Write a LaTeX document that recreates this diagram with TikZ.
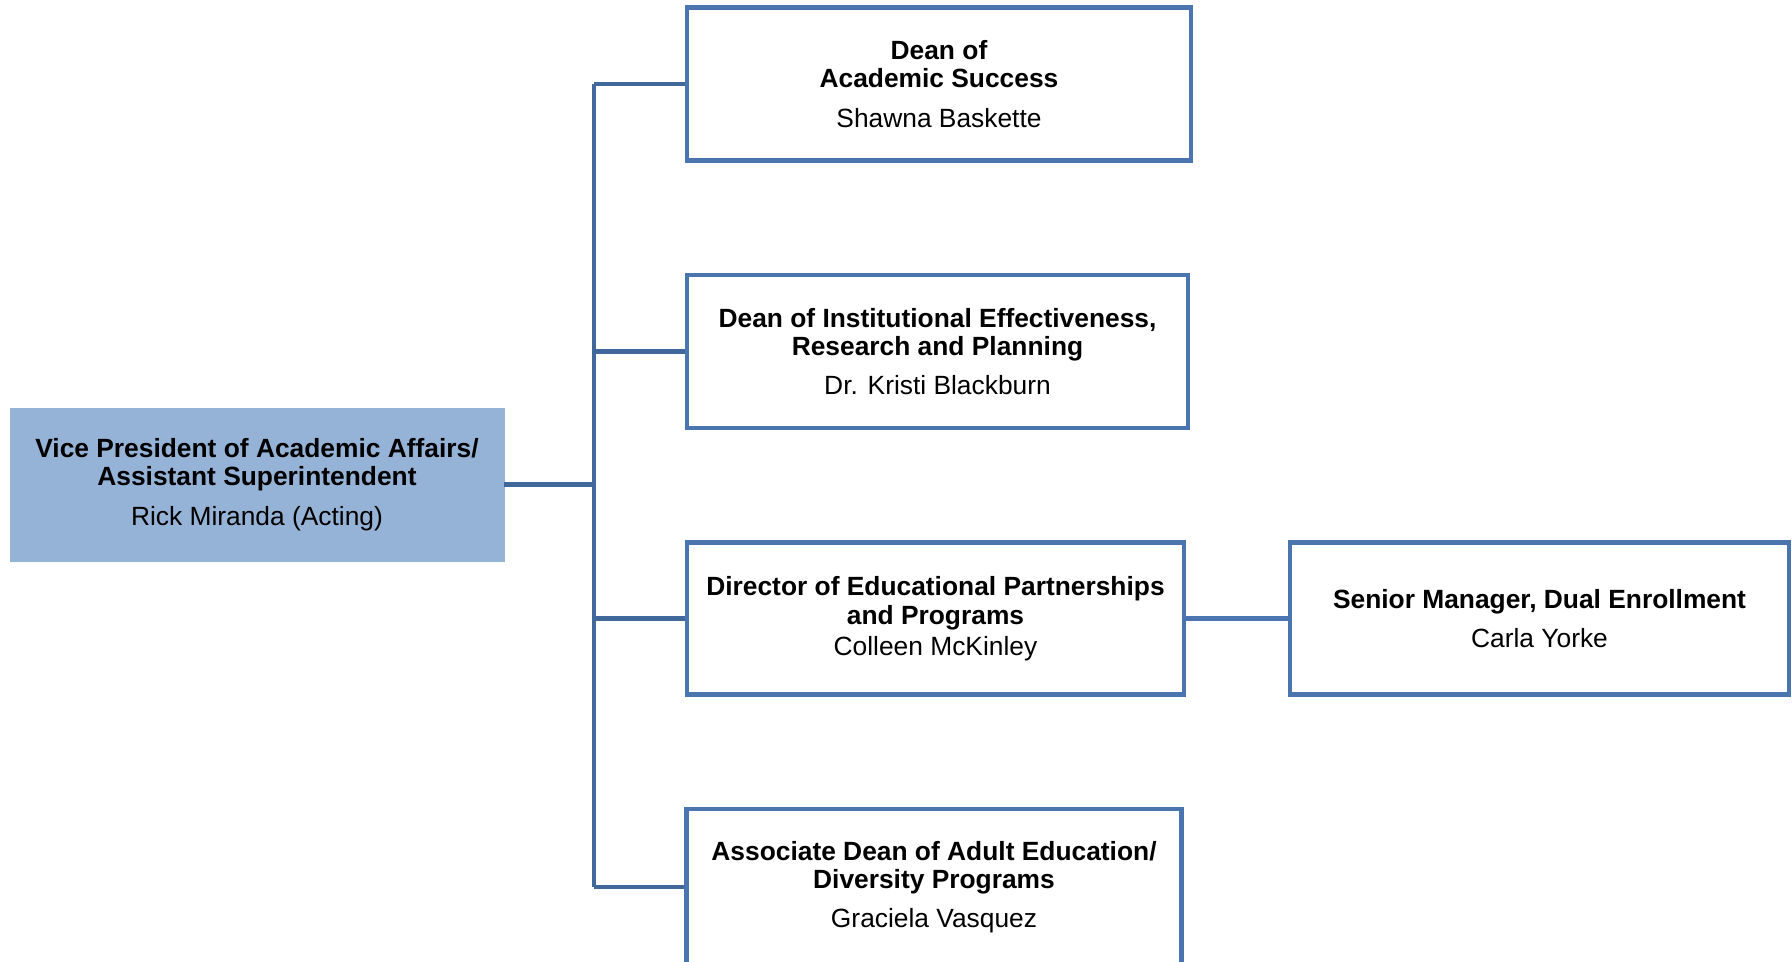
\documentclass[tikz,border=0pt]{standalone}
\usepackage{fontspec}
\setmainfont{Liberation Sans}
\usepackage{tikz}

\definecolor{boxline}{RGB}{74,117,175}
\definecolor{connline}{RGB}{65,104,155}
\definecolor{vpfill}{RGB}{149,179,215}

\tikzset{
  unit/.style={rectangle, draw=boxline, line width=2.8pt, fill=white, align=center,
    inner sep=0pt, font=\fontsize{15}{16}\selectfont},
  topunit/.style={unit, draw=vpfill, fill=vpfill, line width=0.5pt},
  conn/.style={draw=connline, line width=2.8pt}
}

\begin{document}
\begin{tikzpicture}[x=0.02cm, y=0.02cm]
\useasboundingbox (0,0) rectangle (1792,-961);

\node[topunit, minimum width=494*0.02cm, minimum height=153*0.02cm] (vp) at (257,-484.5)
  {\textbf{Vice President of Academic Affairs/}\\\textbf{Assistant Superintendent}\\[6.5pt]Rick Miranda (Acting)};

\node[unit, minimum width=504*0.02cm, minimum height=153*0.02cm] (acad) at (939,-84)
  {\textbf{Dean of}\\\textbf{Academic Success}\\[6.5pt]Shawna Baskette};
\node[unit, minimum width=501*0.02cm, minimum height=153*0.02cm] (ierp) at (937.5,-351.5)
  {\textbf{Dean of Institutional Effectiveness,}\\\textbf{Research and Planning}\\[6.5pt]Dr. Kristi Blackburn};
\node[unit, minimum width=497*0.02cm, minimum height=152*0.02cm] (edpart) at (935.5,-618.5)
  {\textbf{Director of Educational Partnerships}\\[1pt]\textbf{and Programs}\\[1.5pt]Colleen McKinley};
\node[unit, minimum width=495*0.02cm, minimum height=156*0.02cm] (adult) at (934,-887)
  {\textbf{Associate Dean of Adult Education/}\\\textbf{Diversity Programs}\\[6.5pt]Graciela Vasquez};

\node[unit, minimum width=499*0.02cm, minimum height=152*0.02cm] (dual) at (1539.5,-618.5)
  {\textbf{Senior Manager, Dual Enrollment}\\[6.5pt]Carla Yorke};

% bus line
\coordinate (bus) at (594,0);
\draw[conn] (vp.east) -- (vp.east -| bus);
\draw[conn] (acad.west -| bus) -- (adult.west -| bus);
\foreach \n in {acad,ierp,edpart,adult}
  \draw[conn] (\n.west -| bus) -- (\n.west);
\draw[conn, draw=boxline] (edpart.east) -- (dual.west);
\end{tikzpicture}
\end{document}
